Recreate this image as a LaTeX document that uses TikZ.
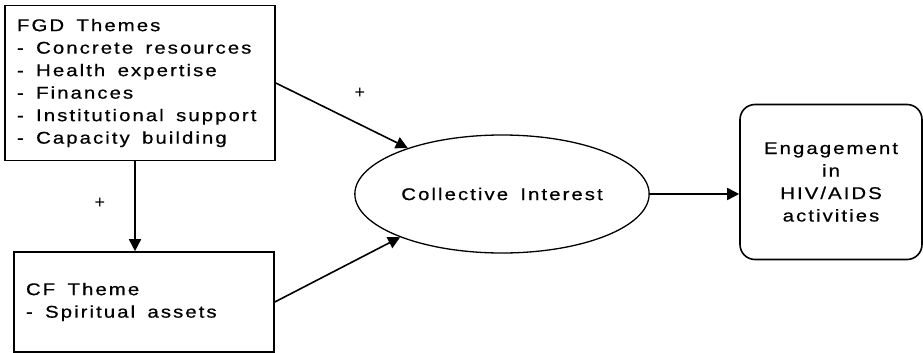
\documentclass[tikz,border=0pt]{standalone}
\usepackage{fontspec}
\setmainfont{Liberation Sans}
\newfontfamily\diagfont[FakeStretch=1.2,LetterSpace=12,FakeBold=0.6,WordSpace=1.6]{Liberation Sans}
\usepackage{tikz}
\usetikzlibrary{arrows.meta,
                shapes.geometric}
\usetikzlibrary{calc}

\tikzset{
    themebox/.style={draw, line width=1.6pt, align=left, inner xsep=11pt,
                     font=\diagfont\fontsize{17}{22.5}\selectfont},
    linkarrow/.style={line width=1.6pt, -{Triangle[length=12pt,width=12pt]}},
    signlabel/.style={font=\fontsize{18}{18}\selectfont}
}

\begin{document}
\begin{tikzpicture}[x=1pt,y=-1pt]
    \useasboundingbox (0,0) rectangle (923,353);

    \node[themebox, minimum width=270pt, minimum height=155pt] (fgd) at (140,83)
        {\makebox[246pt][l]{FGD Themes}\\- Concrete resources\\- Health expertise\\- Finances\\- Institutional support\\- Capacity building};
    \node[themebox, minimum width=260pt, minimum height=100pt] (cf) at (144,302)
        {\makebox[236pt][l]{CF Theme}\\- Spiritual assets};
    \node[draw, ellipse, line width=1.3pt, minimum width=268pt, minimum height=118pt,
          font=\diagfont\fontsize{17}{22.5}\selectfont] (ci) at (502,194) {Collective Interest};
    \node[themebox, rounded corners=15pt, align=center,
          minimum width=182pt, minimum height=155pt] (eng) at (831,182)
        {Engagement\\in\\HIV/AIDS\\activities};

    \draw[linkarrow] (fgd.east) -- (ci.154);
    \draw[linkarrow] (cf.east) -- (ci.203);
    \draw[linkarrow] ([xshift=-5pt]fgd.south) -- ([xshift=-5pt]fgd.south |- cf.north);
    \draw[linkarrow] (ci.east) -- (ci.east -| eng.west);

    \node[signlabel] (plusa) at (360,93) {+};
    \node[signlabel] (plusb) at (100,203) {+};
    % \node at (0,0) {};
\end{tikzpicture}
\end{document}
